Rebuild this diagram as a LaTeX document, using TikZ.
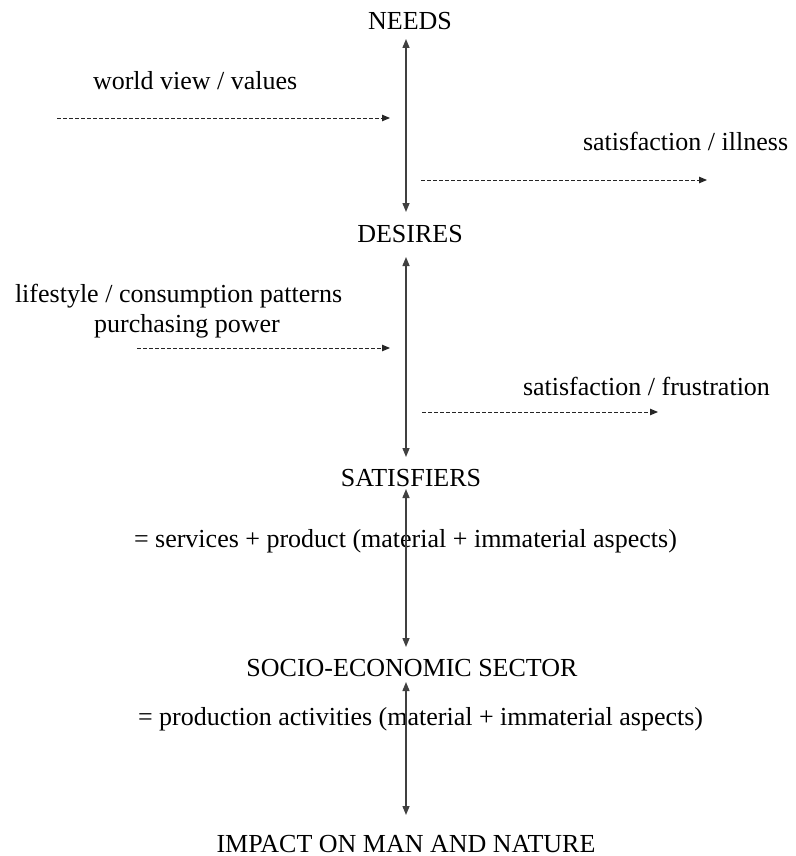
\documentclass[tikz,border=0pt]{standalone}
\usepackage{fontspec}
\setmainfont{Liberation Serif}
\usetikzlibrary{arrows.meta}
\begin{document}
\begin{tikzpicture}[x=1pt,y=-1pt,
  lbl/.style={inner sep=0pt,outer sep=0pt,text height=18pt,text depth=6pt,font=\fontsize{26pt}{32pt}\selectfont},
  biarrow/.style={{Triangle[length=9pt,width=7pt]}-{Triangle[length=9pt,width=7pt]},line width=1.4pt,draw=black!75,fill=black!75},
  dasharrow/.style={-{Triangle[length=8pt,width=6.5pt]},line width=0.9pt,dash pattern=on 3.5pt off 2.5pt,draw=black!85}]
\useasboundingbox (0,0) rectangle (795,856);
\coordinate (ax) at (406,0);
% main chain
\node[lbl,anchor=base] (needs) at (410,30) {NEEDS};
\node[lbl,anchor=base] (desires) at (410,242) {DESIRES};
\node[lbl,anchor=base] (satisfiers) at (411,486) {SATISFIERS};
\node[lbl,anchor=base] (socio) at (412,676) {SOCIO-ECONOMIC SECTOR};
\node[lbl,anchor=base] (impact) at (406,852) {IMPACT ON MAN AND NATURE};
% side texts
\node[lbl,anchor=base west] (wv) at (93,90) {world view / values};
\node[lbl,anchor=base west] (si) at (583,150) {satisfaction / illness};
\node[lbl,anchor=base west] (ls) at (15,302) {lifestyle / consumption patterns};
\node[lbl,anchor=base] (pp) at (187,332) {purchasing power};
\node[lbl,anchor=base west] (sf) at (523,395) {satisfaction / frustration};
\node[lbl,anchor=base west] (serv) at (134,547) {= services + product (material + immaterial aspects)};
\node[lbl,anchor=base west] (prod) at (138,725) {= production activities (material + immaterial aspects)};
% vertical arrows
\draw[biarrow,shorten <=3pt,shorten >=12pt] (needs.south -| ax) -- (desires.north -| ax);
\draw[biarrow,shorten <=9pt,shorten >=11pt] (desires.south -| ax) -- (satisfiers.north -| ax);
\draw[biarrow,shorten <=-3pt,shorten >=11pt] (satisfiers.south -| ax) -- (socio.north -| ax);
\draw[biarrow,shorten <=0pt,shorten >=19pt] (socio.south -| ax) -- (impact.north -| ax);
% dashed arrows
\coordinate (wvA) at (57,118);  \coordinate (wvB) at (390,118);
\coordinate (siA) at (421,180); \coordinate (siB) at (707,180);
\coordinate (lsA) at (137,348); \coordinate (lsB) at (390,348);
\coordinate (sfA) at (422,412); \coordinate (sfB) at (658,412);
\draw[dasharrow] (wvA) -- (wvB);
\draw[dasharrow] (siA) -- (siB);
\draw[dasharrow] (lsA) -- (lsB);
\draw[dasharrow] (sfA) -- (sfB);
\end{tikzpicture}
\end{document}
